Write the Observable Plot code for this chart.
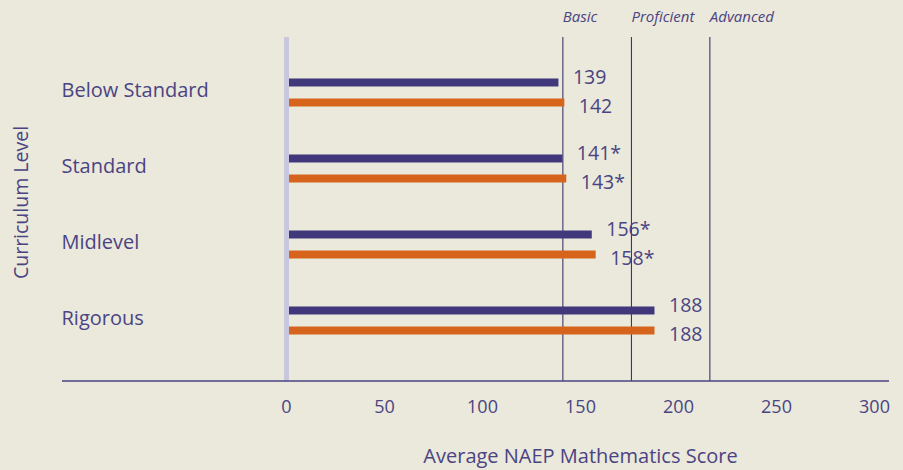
<!DOCTYPE html>
<html>
<head>
<meta charset="utf-8">
<script src="https://cdn.jsdelivr.net/npm/d3@7"></script>
<script src="https://cdn.jsdelivr.net/npm/@observablehq/plot@0.6"></script>
<style>
  html, body { margin: 0; padding: 0; background: #ebe8dc; }
  #chart { width: 903px; height: 470px; }
</style>
</head>
<body>
<div id="chart"></div>
<script>
// ---- data ----
const categories = ["Below Standard", "Standard", "Midlevel", "Rigorous"];
const seriesA = [139, 141, 156, 188];           // purple bars
const seriesB = [142, 143, 158, 188];           // orange bars
const labelsA = ["139", "141*", "156*", "188"];
const labelsB = ["142", "143*", "158*", "188"];
const benchmarkNames = ["Basic", "Proficient", "Advanced"];
const benchmarkScores = [141, 176, 216];
const xTicks = [0, 50, 100, 150, 200, 250, 300];
const xTitle = "Average NAEP Mathematics Score";
const yTitle = "Curriculum Level";

const rowsA = categories.map((c, i) => ({category: c, value: seriesA[i], label: labelsA[i]}));
const rowsB = categories.map((c, i) => ({category: c, value: seriesB[i], label: labelsB[i]}));

const purple = "#40387a";
const orange = "#d6641c";
const ink = "#4a4482";
const font = "Open Sans";

const chart = Plot.plot({
  width: 903,
  height: 470,
  marginLeft: 286,
  marginRight: 29,
  marginTop: 37,
  marginBottom: 89,
  style: {background: "transparent", fontFamily: font, color: ink, overflow: "visible"},
  x: {domain: [0, 300]},
  y: {type: "point", domain: categories, padding: 0.75, align: 0.47},
  marks: [
    Plot.ruleX(benchmarkScores, {stroke: "#3d366f", strokeWidth: 1.1}),
    Plot.ruleY(rowsA, {y: "category", x1: 0, x2: "value", dy: -10, stroke: purple, strokeWidth: 8}),
    Plot.ruleY(rowsB, {y: "category", x1: 0, x2: "value", dy: 10, stroke: orange, strokeWidth: 8}),
    Plot.ruleX([0], {stroke: "#c9c6df", strokeWidth: 5}),
    Plot.text(rowsA, {y: "category", x: "value", text: "label", dx: 14, dy: -15, textAnchor: "start", fontSize: 19.5, fill: ink}),
    Plot.text(rowsB, {y: "category", x: "value", text: "label", dx: 14, dy: 14, textAnchor: "start", fontSize: 19.5, fill: ink}),
    Plot.text(benchmarkScores, {x: d => d, text: (d, i) => benchmarkNames[i], frameAnchor: "top", dy: -26, textAnchor: "start", fontSize: 15, fontStyle: "italic", fill: ink}),
    Plot.axisX({ticks: xTicks, tickSize: 0, tickPadding: 19, fontSize: 18, label: null, fill: ink}),
    Plot.axisY({tickSize: 0, tickPadding: 225, textAnchor: "start", dy: -2, fontSize: 20, label: null, fill: ink}),
    Plot.text([xTitle], {frameAnchor: "bottom", dy: 81, fontSize: 20, textAnchor: "middle", fill: ink}),
    Plot.text([yTitle], {frameAnchor: "left", dx: -265, dy: -7, rotate: -90, textAnchor: "middle", fontSize: 19.5, fill: ink})
  ]
});

// baseline axis rule spanning wider than the plot frame
d3.select(chart).append("line")
  .attr("x1", 62).attr("x2", 889)
  .attr("y1", 470 - 89).attr("y2", 470 - 89)
  .attr("stroke", "#4a4482").attr("stroke-width", 1.5);

document.getElementById("chart").appendChild(chart);
</script>
</body>
</html>
